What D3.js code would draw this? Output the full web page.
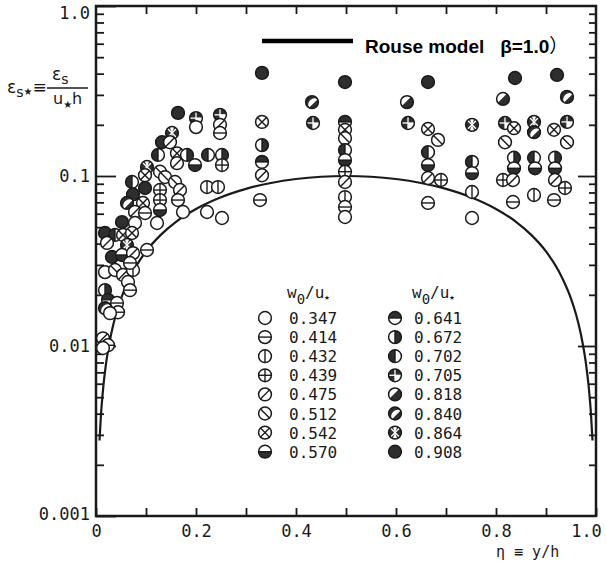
<!DOCTYPE html>
<html><head><meta charset="utf-8">
<script src="https://cdn.jsdelivr.net/npm/d3@7"></script>
<style>
body{margin:0;background:#fff}
text{font-family:"DejaVu Sans Mono",monospace;fill:#1a1a1a}
</style>
</head><body>
<svg id="c" width="606" height="564"></svg>
<script>
// ---- data ----
const settlingRatios = ["0.347","0.414","0.432","0.439","0.475","0.512","0.542","0.570",
                        "0.641","0.672","0.702","0.705","0.818","0.840","0.864","0.908"];
const xTickValues = [0,0.1,0.2,0.3,0.4,0.5,0.6,0.7,0.8,0.9,1.0];
const xTickLabels = ["0","","0.2","","0.4","","0.6","","0.8","","1.0"];
const yTickValues = [0.001,0.01,0.1,1];
const yTickLabels = ["0.001","0.01","0.1","1.0"];
// Rouse model (beta = 1.0) curve
const rouseEta = [0.007,0.01,0.015,0.02,0.03,0.04,0.05,0.07,0.1,0.13,0.16,0.2,0.25,0.3,0.35,0.4,0.45,0.5,
                  0.55,0.6,0.65,0.7,0.75,0.8,0.84,0.87,0.9,0.93,0.95,0.96,0.97,0.98,0.985,0.99,0.993];
const rouseEps = [0.00278,0.00396,0.00591,0.00784,0.01164,0.01536,0.019,0.026,0.036,0.0452,0.0538,0.064,0.075,0.084,0.091,0.096,0.099,0.100,
                  0.099,0.096,0.091,0.084,0.075,0.064,0.0538,0.0452,0.036,0.026,0.019,0.01536,0.01164,0.00784,0.00591,0.00396,0.00278];
// observations: [eta, eps_s*, series index into settlingRatios]
const observations = [
 [0.332,0.404,15],[0.332,0.208,6],[0.332,0.152,9],[0.332,0.121,8],[0.332,0.101,4],[0.328,0.0722,1],
 [0.432,0.272,13],[0.434,0.205,11],
 [0.498,0.357,15],[0.498,0.208,8],[0.498,0.187,6],[0.498,0.167,5],[0.498,0.142,10],[0.498,0.124,7],
 [0.498,0.106,3],[0.498,0.0922,4],[0.498,0.0752,2],[0.498,0.0657,1],[0.498,0.0574,0],
 [0.622,0.272,12],[0.624,0.205,11],
 [0.664,0.357,15],[0.664,0.189,6],[0.684,0.163,5],[0.664,0.138,10],[0.664,0.116,7],[0.664,0.0973,4],
 [0.690,0.0947,3],[0.664,0.0694,1],
 [0.752,0.200,14],[0.752,0.121,10],[0.752,0.104,7],[0.752,0.0805,2],[0.752,0.0566,0],
 [0.838,0.377,15],[0.922,0.393,15],[0.814,0.284,12],[0.942,0.292,13],
 [0.818,0.205,11],[0.836,0.191,6],[0.876,0.208,14],[0.876,0.181,13],[0.916,0.187,6],[0.942,0.208,11],
 [0.818,0.158,5],[0.942,0.158,5],
 [0.836,0.128,9],[0.836,0.111,7],[0.876,0.128,10],[0.878,0.111,7],[0.918,0.128,9],[0.918,0.111,7],
 [0.814,0.0947,3],[0.834,0.0947,4],[0.918,0.0947,4],[0.938,0.0850,3],[0.876,0.0773,2],
 [0.834,0.0703,1],[0.916,0.0722,1],
 [0.164,0.235,15],[0.200,0.219,11],[0.200,0.194,0],[0.248,0.229,11],[0.248,0.200,4],[0.248,0.179,1],
 [0.152,0.179,14],[0.132,0.158,15],[0.148,0.158,4],
 [0.124,0.133,10],[0.162,0.136,6],[0.182,0.133,9],[0.162,0.119,4],[0.198,0.116,7],
 [0.224,0.133,10],[0.252,0.133,9],[0.252,0.116,3],
 [0.102,0.113,14],[0.098,0.101,6],[0.128,0.106,5],[0.138,0.0986,5],
 [0.072,0.0922,10],[0.098,0.0850,15],[0.158,0.0922,5],[0.168,0.0827,4],[0.128,0.0827,3],[0.128,0.0722,3],
 [0.222,0.0861,2],[0.244,0.0861,2],[0.128,0.0631,7],[0.164,0.0722,1],
 [0.074,0.0779,15],[0.094,0.0694,6],[0.062,0.0694,13],[0.078,0.0614,4],[0.098,0.0606,1],
 [0.174,0.0614,0],[0.222,0.0614,0],[0.252,0.0566,0],[0.122,0.0529,0],[0.052,0.0536,15],[0.078,0.0529,0],
 [0.018,0.0462,15],[0.038,0.0450,10],[0.054,0.0450,6],[0.072,0.0462,6],
 [0.022,0.0404,4],[0.062,0.0393,14],[0.102,0.0367,1],
 [0.032,0.0334,15],[0.052,0.0343,7],[0.074,0.0352,4],
 [0.018,0.0272,0],[0.038,0.0280,5],[0.054,0.0262,4],[0.074,0.0280,2],[0.068,0.0308,1],
 [0.064,0.0238,0],[0.018,0.0213,9],[0.024,0.0187,8],[0.042,0.0179,1],[0.068,0.0213,1],
 [0.018,0.0167,13],[0.044,0.0158,1],[0.028,0.0156,0],
 [0.014,0.0111,4],[0.024,0.0101,1],[0.014,0.00973,0]
];

// ---- drawing ----
const svg = d3.select("#c");
const L=96, R=596, T=6, B=516;
const x = d3.scaleLinear().domain([0,1]).range([L,R]);
const y = d3.scaleLog().domain([0.001,1]).range([B,T]);
const ink = "#1a1a1a", dark = "#2e2e2e";

const minorY = [];
[0.001,0.01,0.1].forEach(d=>{ for(let m=2;m<=9;m++) minorY.push(d*m); });

svg.append("rect").attr("x",L).attr("y",T).attr("width",R-L).attr("height",B-T)
  .attr("fill","none").attr("stroke",ink).attr("stroke-width",2.5);

function styleAxis(g){
  g.select(".domain").remove();
  g.selectAll(".tick line").attr("stroke",ink).attr("stroke-width",1.8);
  g.selectAll(".tick text").attr("fill",ink)
   .style("font-family","'DejaVu Sans Mono',monospace").style("font-size","17px");
}
svg.append("g").attr("transform",`translate(${L},0)`)
  .call(d3.axisLeft(y).tickValues(minorY).tickSize(-8).tickFormat(""))
  .call(styleAxis);
const ly = svg.append("g").attr("transform",`translate(${L},0)`)
  .call(d3.axisLeft(y).tickValues(yTickValues).tickSize(-20).tickPadding(6)
        .tickFormat((d,i)=>yTickLabels[i]))
  .call(styleAxis);
ly.selectAll(".tick text").filter(d=>d===1).attr("dy","0.72em");
ly.selectAll(".tick text").filter(d=>d===0.001).attr("dy","0.2em");
svg.append("g").attr("transform",`translate(${R},0)`)
  .call(d3.axisRight(y).tickValues(minorY).tickSize(-7).tickFormat(""))
  .call(styleAxis);
svg.append("g").attr("transform",`translate(${R},0)`)
  .call(d3.axisRight(y).tickValues([0.01,0.1]).tickSize(-18).tickFormat(""))
  .call(styleAxis);
const bx = svg.append("g").attr("transform",`translate(0,${B})`)
  .call(d3.axisBottom(x).tickValues(xTickValues).tickSize(-8).tickPadding(9)
        .tickFormat((d,i)=>xTickLabels[i]))
  .call(styleAxis);
bx.selectAll(".tick text").filter(d=>d===1).attr("dx",-10);
svg.append("g").attr("transform",`translate(0,${T})`)
  .call(d3.axisTop(x).tickValues(xTickValues.slice(1,-1)).tickSize(-8).tickFormat(""))
  .call(styleAxis);

// x label
svg.append("text").attr("x",496).attr("y",557).style("font-size","15px").text("η ≡ y/h");

// y label
const yl = svg.append("text").attr("x",7).attr("y",93).style("font-family","'DejaVu Sans',sans-serif").style("font-size","17px");
yl.append("tspan").text("ε");
yl.append("tspan").attr("dy",4).style("font-size","14px").text("s");
yl.append("tspan").attr("dy",-2).style("font-size","10px").text("★");
yl.append("tspan").attr("dy",-2).style("font-size","17px").text("≡");
const yn = svg.append("text").attr("x",52).attr("y",80).style("font-family","'DejaVu Sans',sans-serif").style("font-size","17px");
yn.append("tspan").text("ε");
yn.append("tspan").attr("dy",4).style("font-size","14px").text("s");
svg.append("line").attr("x1",47).attr("x2",88).attr("y1",88).attr("y2",88).attr("stroke",ink).attr("stroke-width",1.3);
const yd = svg.append("text").attr("x",53).attr("y",104).style("font-family","'DejaVu Sans',sans-serif").style("font-size","16px");
yd.append("tspan").text("u");
yd.append("tspan").attr("dy",4).style("font-size","10px").text("★");
yd.append("tspan").attr("dy",-4).style("font-size","16px").text("h");

// Rouse curve
const rouse = rouseEta.map((e,i)=>[e,rouseEps[i]]);
svg.append("path").datum(rouse)
  .attr("d", d3.line().x(d=>x(d[0])).y(d=>y(d[1])).curve(d3.curveMonotoneX))
  .attr("fill","none").attr("stroke",ink).attr("stroke-width",2.2);

// markers
const r = 6.4, a = r*Math.SQRT1_2;
function seg(dirx, diry, d, sweep){
  const n = Math.hypot(dirx,diry); dirx/=n; diry/=n;
  const cx = d*dirx, cy = d*diry, h = Math.sqrt(r*r-d*d);
  const tx = -diry, ty = dirx;
  const p1 = [cx+h*tx, cy+h*ty], p2 = [cx-h*tx, cy-h*ty];
  return `M${p1[0]},${p1[1]} A${r},${r} 0 0 ${sweep} ${p2[0]},${p2[1]} Z`;
}
function drawMarker(g, s){
  const line = (x1,y1,x2,y2,col,w)=>g.append("line").attr("x1",x1).attr("y1",y1).attr("x2",x2).attr("y2",y2)
     .attr("stroke",col||ink).attr("stroke-width",w||1.4);
  const fill = (d,col)=>g.append("path").attr("d",d).attr("fill",col||dark);
  const base = (s>=11) ? dark : "#fff";
  g.append("circle").attr("r",r).attr("fill", base);
  switch(s){
    case 1: line(-r,0,r,0); break;
    case 2: line(0,-r,0,r); break;
    case 3: line(-r,0,r,0); line(0,-r,0,r); break;
    case 4: line(-a,a,a,-a); break;
    case 5: line(-a,-a,a,a); break;
    case 6: line(-a,-a,a,a); line(-a,a,a,-a); break;
    case 7: fill(`M${-r},0 A${r},${r} 0 0 0 ${r},0 Z`); line(-r,0,r,0); break;
    case 8: fill(`M${-r},0 A${r},${r} 0 0 1 ${r},0 Z`); line(-r,0,r,0); break;
    case 9: fill(`M0,${-r} A${r},${r} 0 0 1 0,${r} Z`); line(0,-r,0,r); break;
    case 10: fill(`M0,${-r} A${r},${r} 0 0 0 0,${r} Z`); line(0,-r,0,r); break;
    case 11: fill(`M0,0 L${r},0 A${r},${r} 0 0 1 0,${r} Z`,"#fff");
             line(-r,0,r,0,"#fff",1.3); line(0,-r,0,r,"#fff",1.3); break;
    case 12: fill(seg(-1,-1,r*0.15,0),"#fff"); break;
    case 13: fill(seg(1,1,r*0.3,1),"#fff"); break;
    case 14: line(-a,-a,a,a,"#fff",1.4); line(-a,a,a,-a,"#fff",1.4);
             fill(`M0,0 L${-a*0.55},${-r} L${a*0.55},${-r} Z`,"#fff");
             fill(`M0,0 L${-a*0.55},${r} L${a*0.55},${r} Z`,"#fff"); break;
  }
  g.append("circle").attr("r",r).attr("fill","none").attr("stroke",ink).attr("stroke-width",1.5);
}

const pts = svg.append("g");
observations.forEach(o=>{
  const g = pts.append("g").attr("transform",`translate(${x(o[0])},${y(o[1])})`);
  drawMarker(g, o[2]);
});

// inner legend
const cols = [{sx:265, tx:289}, {sx:395, tx:414}];
cols.forEach((c,ci)=>{
  const h = svg.append("text").attr("x",c.tx-2).attr("y",298).style("font-size","16px");
  h.append("tspan").text("w");
  h.append("tspan").attr("dy",6).style("font-size","14px").text("0");
  h.append("tspan").attr("dy",-6).style("font-size","16px").text("/u");
  h.append("tspan").attr("dy",2).style("font-size","9px").text("★");
  for(let i=0;i<8;i++){
    const s = ci*8+i, yy = 318 + i*19.1;
    drawMarker(svg.append("g").attr("transform",`translate(${c.sx},${yy})`), s);
    svg.append("text").attr("x",c.tx).attr("y",yy+6).style("font-size","16px").text(settlingRatios[s]);
  }
});

// top legend
svg.append("line").attr("x1",262).attr("x2",353).attr("y1",41).attr("y2",41).attr("stroke","#000").attr("stroke-width",4.5);
const tl = svg.append("text").attr("x",365).attr("y",53)
  .style("font-family","'Liberation Sans',Arial,'Noto Sans CJK SC',sans-serif").style("font-weight","bold").style("font-size","19px")
  .style("fill","#000").attr("xml:space","preserve");
tl.append("tspan").text("Rouse model   β=1.0");
tl.append("tspan").style("font-family","'Noto Sans CJK SC',sans-serif").style("font-weight","normal").text("）");
</script>
</body></html>
